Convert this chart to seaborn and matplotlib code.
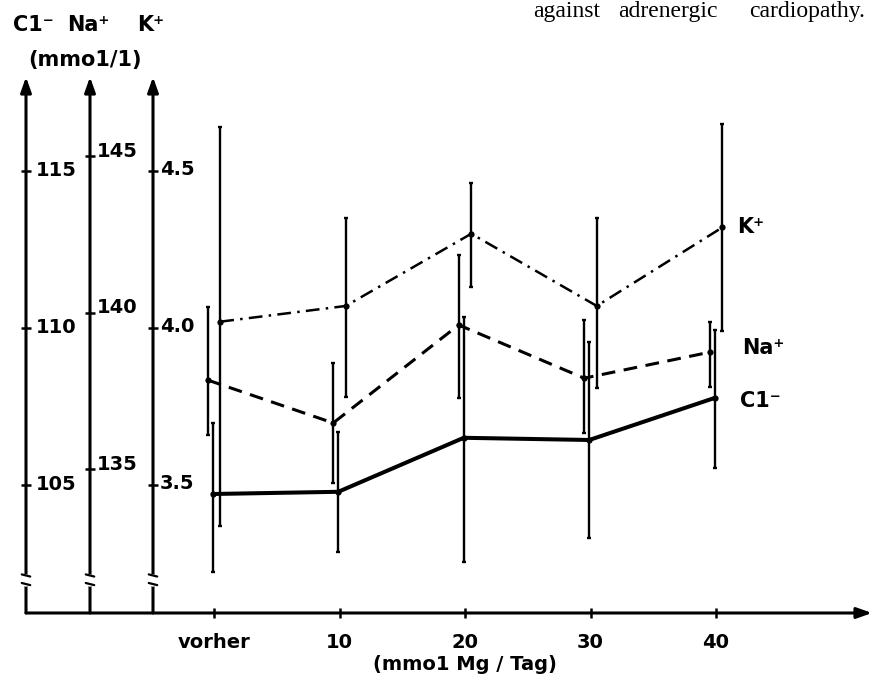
import matplotlib
matplotlib.use('Agg')
import matplotlib.pyplot as plt
import seaborn as sns
import numpy as np

# --- Data ---
doses = ['vorher', '10', '20', '30', '40']

k_mean = [4.02, 4.07, 4.30, 4.07, 4.32]
k_lo = [3.37, 3.78, 4.13, 3.81, 3.99]
k_hi = [4.64, 4.35, 4.46, 4.35, 4.65]

na_mean = [137.85, 136.48, 139.61, 137.91, 138.74]
na_lo = [136.09, 134.56, 137.27, 136.16, 137.63]
na_hi = [140.18, 138.39, 141.84, 139.77, 139.70]

cl_mean = [104.71, 104.78, 106.50, 106.43, 107.77]
cl_lo = [102.23, 102.87, 102.55, 103.31, 105.54]
cl_hi = [106.97, 106.69, 110.35, 109.55, 109.94]

cl_ticks = [105, 110, 115]
na_ticks = [135, 140, 145]
k_ticks = [3.5, 4.0, 4.5]
k_tick_labels = ['3.5', '4.0', '4.5']

# --- Style ---
sns.set_style('white')
plt.rcParams['font.family'] = ['DejaVu Sans']
plt.rcParams['font.weight'] = 'bold'
plt.rcParams['text.color'] = 'black'
plt.rcParams['xtick.color'] = 'black'
plt.rcParams['xtick.labelcolor'] = 'black'

W, H = 875, 679
fig = plt.figure(figsize=(W / 100, H / 100), dpi=100)
fig.patch.set_facecolor('white')


def fx(px):
    return px / W


def fy(py):
    return 1 - py / H


# axes box in pixels (left axis line .. arrow tip, bottom line .. arrow tip)
ax_l, ax_r, ax_t, ax_b = 26, 872, 77, 613
ax = fig.add_axes([fx(ax_l), fy(ax_b), (ax_r - ax_l) / W, (ax_b - ax_t) / H])
ax_na = ax.twinx()
ax_k = ax.twinx()

ax.set_xlim(-1.498, 5.243)
ax.set_ylim(100.92, 117.99)
ax_na.set_ylim(130.41, 147.53)
ax_k.set_ylim(3.0924, 4.799)

for a in (ax, ax_na, ax_k):
    for s in a.spines.values():
        s.set_visible(False)
    a.set_yticks([])
    a.patch.set_visible(False)

x = np.arange(len(doses))
off = {'na': -0.05, 'cl': -0.01, 'k': 0.05}

# error bars
for a, key, m, lo, hi in [(ax, 'cl', cl_mean, cl_lo, cl_hi),
                          (ax_na, 'na', na_mean, na_lo, na_hi),
                          (ax_k, 'k', k_mean, k_lo, k_hi)]:
    m = np.array(m)
    a.errorbar(x + off[key], m, yerr=[m - np.array(lo), np.array(hi) - m],
               fmt='none', ecolor='black', elinewidth=1.7, capsize=1.5, capthick=1.7)

# mean lines
sns.lineplot(x=x + off['cl'], y=cl_mean, ax=ax, color='black', lw=2.9,
             marker='o', markersize=4.5, markeredgewidth=0)
sns.lineplot(x=x + off['na'], y=na_mean, ax=ax_na, color='black', lw=2.2,
             linestyle=(0, (4.5, 2.8)), marker='o', markersize=4.5, markeredgewidth=0)
sns.lineplot(x=x + off['k'], y=k_mean, ax=ax_k, color='black', lw=1.8,
             linestyle=(0, (5.5, 2.5, 1, 2.5)), marker='o', markersize=4.5, markeredgewidth=0)

# --- hand-drawn style axes with arrows ---
arrow = dict(arrowstyle='-|>,head_length=0.9,head_width=0.32', color='black',
             lw=2.2, shrinkA=0, shrinkB=0)
axis_x = {'cl': 0.0, 'na': (90 - ax_l) / (ax_r - ax_l), 'k': (153 - ax_l) / (ax_r - ax_l)}
for xf in axis_x.values():
    ax.annotate('', xy=(xf, 1), xytext=(xf, 0), xycoords='axes fraction',
                arrowprops=arrow)
    # axis break marks
    ax.plot([xf, xf], [0.055, 0.068], color='white', lw=4, transform=ax.transAxes,
            clip_on=False, zorder=5)
    for yb in (0.053, 0.069):
        ax.plot([xf - 0.005, xf + 0.005], [yb + 0.003, yb - 0.001], color='black', lw=1.6,
                transform=ax.transAxes, clip_on=False, zorder=6)
ax.annotate('', xy=(1, 0), xytext=(0, 0), xycoords='axes fraction', arrowprops=arrow)

# y-axis ticks and labels
for a, key, ticks, labels, dy in [(ax, 'cl', cl_ticks, [str(t) for t in cl_ticks], 0),
                                  (ax_na, 'na', na_ticks, [str(t) for t in na_ticks], 5),
                                  (ax_k, 'k', k_ticks, k_tick_labels, 1)]:
    xf = axis_x[key]
    tr = a.get_yaxis_transform()
    a.plot([xf] * len(ticks), ticks, ls='none', marker='_', ms=7, mew=1.8,
           color='black', transform=tr, clip_on=False, zorder=6)
    for t, lab in zip(ticks, labels):
        a.annotate(lab, xy=(xf, t), xycoords=tr, xytext=(7 if key != 'cl' else 10, dy),
                   textcoords='offset pixels', ha='left', va='center',
                   fontsize=14, fontweight='bold', color='black')

# x ticks
ax.set_xticks(x)
ax.set_xticklabels(doses)
ax.tick_params(axis='x', direction='inout', length=7, width=1.8, pad=11,
               labelsize=14, bottom=True, colors='black')
for lab in ax.get_xticklabels():
    lab.set_fontweight('bold')
ax.text((465 - ax_l) / (ax_r - ax_l), (ax_b - 664) / (ax_b - ax_t), '(mmo1 Mg / Tag)',
        transform=ax.transAxes, ha='center', va='center', fontsize=14, fontweight='bold')

# series labels at the right end
ax_k.text(4.17, k_mean[-1], 'K⁺', ha='left', va='center', fontsize=15, fontweight='bold')
ax_na.text(4.21, na_mean[-1] + 0.15, 'Na⁺', ha='left', va='center', fontsize=15, fontweight='bold')
ax.text(4.19, cl_mean[-1] - 0.1, 'C1⁻', ha='left', va='center', fontsize=15, fontweight='bold')

# axis headings top left
fig.text(fx(13), fy(25), 'C1⁻', ha='left', va='center', fontsize=15, fontweight='bold')
fig.text(fx(67), fy(25), 'Na⁺', ha='left', va='center', fontsize=15, fontweight='bold')
fig.text(fx(137), fy(25), 'K⁺', ha='left', va='center', fontsize=15, fontweight='bold')
fig.text(fx(28), fy(60), '(mmo1/1)', ha='left', va='center', fontsize=15, fontweight='bold')

# running text of the page, cut at the top
for word, left in [('against', 533), ('adrenergic', 618), ('cardiopathy.', 749)]:
    fig.text(fx(left), fy(17), word, ha='left', va='baseline', fontsize=17,
             family='Liberation Serif', fontweight='normal')

fig.savefig('out.png', dpi=100)
